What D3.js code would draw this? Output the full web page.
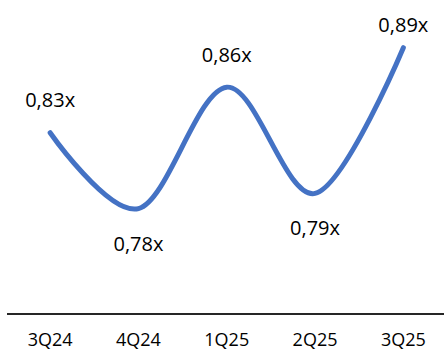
<!DOCTYPE html>
<html>
<head>
<meta charset="utf-8">
<script src="https://cdn.jsdelivr.net/npm/d3@7"></script>
<style>
  html, body { margin: 0; padding: 0; background: #fff; }
  svg { display: block; }
</style>
</head>
<body>
<svg id="chart" width="444" height="350"></svg>
<script>
const categories = ["3Q24", "4Q24", "1Q25", "2Q25", "3Q25"];
const values = [0.83, 0.78, 0.86, 0.79, 0.886];
const labelPlacement = ["above", "below", "above", "below", "above"];

const W = 444, H = 350;
const svg = d3.select("#chart");

const x = d3.scaleBand().domain(categories).range([6, 447.5]);
const cx = d => x(d) + x.bandwidth() / 2;
const y = d3.scaleLinear().domain([0.70, 0.92]).range([330, -3.9]);

const fmt = v => v.toFixed(2).replace(".", ",") + "x";

// axis line
const axisY = 314;
svg.append("line")
  .attr("x1", 7).attr("x2", W)
  .attr("y1", axisY).attr("y2", axisY)
  .attr("stroke", "#262626").attr("stroke-width", 2);

// category labels
svg.append("g").selectAll("text").data(categories).join("text")
  .attr("x", d => cx(d))
  .attr("y", 346)
  .attr("text-anchor", "middle")
  .attr("font-family", "'Open Sans', sans-serif")
  .attr("font-size", 18)
  .attr("fill", "#000")
  .text(d => d);

// line
const pts = categories.map((c, i) => [cx(c), y(values[i])]);
svg.append("path")
  .datum(pts)
  .attr("d", d3.line().curve(d3.curveCardinal.tension(0)))
  .attr("fill", "none")
  .attr("stroke", "#4472C4")
  .attr("stroke-width", 5)
  .attr("stroke-linecap", "round")
  .attr("stroke-linejoin", "round");

// data labels
svg.append("g").selectAll("text").data(values).join("text")
  .attr("x", (d, i) => cx(categories[i]))
  .attr("y", (d, i) => labelPlacement[i] === "above" ? Math.max(y(d) - 25.5, 32) : y(d) + 42)
  .attr("text-anchor", "middle")
  .attr("font-family", "'Open Sans', sans-serif")
  .attr("font-size", 20)
  .attr("fill", "#000")
  .text(d => fmt(d));
</script>
</body>
</html>
